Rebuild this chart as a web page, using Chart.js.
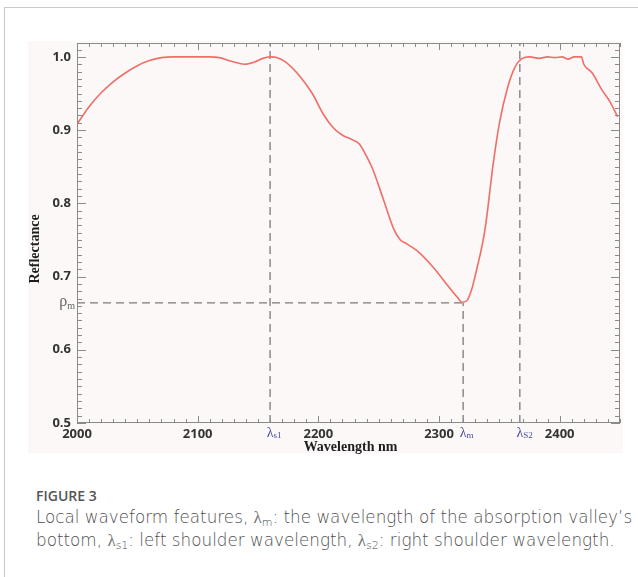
<!DOCTYPE html>
<html>
<head>
<meta charset="utf-8">
<script src="https://cdn.jsdelivr.net/npm/chart.js@4.4.1/dist/chart.umd.min.js"></script>
<style>
    html, body { margin: 0; padding: 0; background: #fff; }
    body { width: 638px; height: 577px; position: relative; overflow: hidden; font-family: "Open Sans", sans-serif; }
    .frame-left { position: absolute; left: 4px; top: 7px; width: 1px; height: 570px; background: #c9c9c9; }
    .frame-top { position: absolute; left: 4px; top: 7px; width: 634px; height: 1px; background: #c9c9c9; }
    #plotBg { position: absolute; left: 28px; top: 41px; width: 595px; height: 412px; background: #fcf8f7; }
    #plotBox { position: absolute; left: 28px; top: 41px; width: 595px; height: 418px; }
    .caption { position: absolute; left: 36px; top: 486px; width: 602px; color: #505050; }
    .caption .label { font-size: 14px; line-height: 20px; color: #555; font-weight: 600; }
    .caption .text { font-family: "DejaVu Sans", sans-serif; font-size: 16.8px; line-height: 22px; font-weight: 200; white-space: nowrap; }
    .caption .lam { font-family: "Liberation Serif", serif; font-size: 17px; color: #777; }
    .caption sub { font-size: 11px; vertical-align: -3px; line-height: 0; }
</style>
</head>
<body>
<div class="frame-left"></div>
<div class="frame-top"></div>
<div id="plotBg"></div>
<div id="plotBox"><canvas id="spectrumChart"></canvas></div>
<div class="caption">
    <div class="label">FIGURE 3</div>
    <div class="text">Local waveform features, <span class="lam">λ</span><sub>m</sub>: the wavelength of the absorption valley’s<br>bottom, <span class="lam">λ</span><sub>s1</sub>: left shoulder wavelength, <span class="lam">λ</span><sub>s2</sub>: right shoulder wavelength.</div>
</div>
<script>
// Spectrum (nm, reflectance)
const wavelength = [
    2000, 2010, 2020, 2030, 2040, 2050, 2060, 2070, 2080, 2090,
    2100, 2110, 2118, 2128, 2139, 2147, 2154, 2160, 2166, 2173,
    2185, 2195, 2204, 2212, 2220, 2228, 2234, 2240, 2245, 2254,
    2263, 2268, 2273, 2282, 2295, 2309, 2315, 2319, 2323, 2327,
    2331, 2338, 2345, 2350, 2357, 2363, 2369, 2375, 2383, 2390,
    2396, 2402, 2407, 2412, 2418, 2420, 2427, 2435, 2442, 2448
];
const reflectance = [
    0.908, 0.932, 0.951, 0.966, 0.978, 0.988, 0.995, 0.999, 1.000, 1.000,
    1.000, 1.000, 0.999, 0.994, 0.990, 0.993, 0.998, 1.000, 0.999, 0.993,
    0.973, 0.950, 0.922, 0.904, 0.893, 0.887, 0.881, 0.864, 0.847, 0.805,
    0.763, 0.750, 0.745, 0.735, 0.713, 0.684, 0.672, 0.665, 0.667, 0.682,
    0.708, 0.763, 0.855, 0.909, 0.959, 0.986, 0.998, 1.000, 0.998, 1.000,
    0.999, 1.000, 0.997, 1.000, 1.000, 0.990, 0.978, 0.955, 0.938, 0.918
];

// Feature markers
const lambdaS1 = 2160;
const lambdaM = 2320;
const lambdaS2 = 2367;
const rhoM = 0.664;

const xTickValues = [2000, 2100, 2200, 2300, 2400];
const yTickValues = [0.5, 0.6, 0.7, 0.8, 0.9, 1.0];
const xMin = 2000, xMax = 2450;
const yMin = 0.5, yMax = 1.019;

const axisColor = '#8a8a8a';
const dashColor = '#7a7a7a';
const lambdaColor = '#4646a0';

function dashed(points) {
    return {
        data: points,
        borderColor: dashColor,
        borderWidth: 1.3,
        borderDash: [8, 5],
        pointRadius: 0,
        tension: 0
    };
}

// Inward ticks on all four sides, feature labels and axis titles
const framePlugin = {
    id: 'frame',
    afterDraw(chart) {
        const ctx = chart.ctx;
        const area = chart.chartArea;
        const xs = chart.scales.x;
        const ys = chart.scales.y;

        ctx.save();
        ctx.strokeStyle = axisColor;
        ctx.lineWidth = 1;
        ctx.strokeRect(area.left + 0.5, area.top + 0.5, area.right - area.left - 1, area.bottom - area.top - 1);

        ctx.beginPath();
        for (let v = xMin; v <= xMax; v += 10) {
            const px = Math.round(xs.getPixelForValue(v)) + 0.5;
            const len = v % 100 === 0 ? 7 : 4;
            ctx.moveTo(px, area.bottom);
            ctx.lineTo(px, area.bottom - len);
            ctx.moveTo(px, area.top);
            ctx.lineTo(px, area.top + len);
        }
        for (let i = 50; i <= 101; i++) {
            const v = i / 100;
            const py = Math.round(ys.getPixelForValue(v)) + 0.5;
            const len = i % 10 === 0 ? 9 : 5;
            ctx.moveTo(area.left, py);
            ctx.lineTo(area.left + len, py);
            ctx.moveTo(area.right, py);
            ctx.lineTo(area.right - len, py);
        }
        ctx.stroke();

        // lambda labels under the x axis
        const lambdaLabels = [[lambdaS1, 's1'], [lambdaM, 'm'], [lambdaS2, 'S2']];
        ctx.fillStyle = lambdaColor;
        ctx.textBaseline = 'middle';
        lambdaLabels.forEach(([v, sub]) => {
            const px = xs.getPixelForValue(v);
            const py = area.bottom + 10;
            ctx.font = '14px "Liberation Serif", serif';
            const w = ctx.measureText('λ').width;
            ctx.textAlign = 'center';
            ctx.fillText('λ', px, py);
            ctx.font = '9px "Liberation Serif", serif';
            ctx.textAlign = 'left';
            ctx.fillText(sub, px + w / 2, py + 3);
        });

        // rho_m label on the y axis
        ctx.fillStyle = '#666';
        const rpy = ys.getPixelForValue(rhoM);
        ctx.font = '10px "Liberation Serif", serif';
        ctx.textAlign = 'right';
        ctx.fillText('m', area.left - 2, rpy + 3);
        const mw = ctx.measureText('m').width;
        ctx.font = '16px "Liberation Serif", serif';
        ctx.fillText('ρ', area.left - 2 - mw, rpy - 1);

        // axis titles
        ctx.fillStyle = '#1e1e1e';
        ctx.font = 'bold 14px "Liberation Serif", serif';
        ctx.textAlign = 'center';
        ctx.fillText('Wavelength nm', (area.left + area.right) / 2 + 2, area.bottom + 24);
        ctx.translate(area.left - 42, (area.top + area.bottom) / 2 + 16);
        ctx.rotate(-Math.PI / 2);
        ctx.fillText('Reflectance', 0, 0);
        ctx.restore();
    }
};

const tickFont = { family: '"Open Sans", sans-serif', size: 13, weight: 'bold' };

new Chart(document.getElementById('spectrumChart'), {
    type: 'line',
    data: {
        datasets: [
            {
                data: wavelength.map((w, i) => ({ x: w, y: reflectance[i] })),
                borderColor: '#ef6e68',
                borderWidth: 1.6,
                pointRadius: 0,
                cubicInterpolationMode: 'monotone'
            },
            dashed([{ x: lambdaS1, y: yMin }, { x: lambdaS1, y: yMax }]),
            dashed([{ x: lambdaS2, y: yMin }, { x: lambdaS2, y: yMax }]),
            dashed([{ x: lambdaM, y: yMin }, { x: lambdaM, y: rhoM }]),
            dashed([{ x: xMin, y: rhoM }, { x: lambdaM, y: rhoM }])
        ]
    },
    options: {
        responsive: true,
        maintainAspectRatio: false,
        animation: false,
        layout: { padding: { top: 2, right: 3, left: 0, bottom: 6 } },
        plugins: {
            legend: { display: false },
            tooltip: { enabled: false }
        },
        scales: {
            x: {
                type: 'linear',
                min: xMin,
                max: xMax,
                grid: { display: false, drawTicks: false },
                border: { display: false },
                afterBuildTicks: s => { s.ticks = xTickValues.map(v => ({ value: v })); },
                afterFit: s => { s.height = 30; s.paddingLeft = 0; s.paddingRight = 0; },
                ticks: {
                    color: '#333',
                    font: tickFont,
                    padding: 3,
                    maxRotation: 0,
                    callback: v => String(v)
                }
            },
            y: {
                type: 'linear',
                min: yMin,
                max: yMax,
                grid: { display: false, drawTicks: false },
                border: { display: false },
                afterBuildTicks: s => { s.ticks = yTickValues.map(v => ({ value: v })); },
                afterFit: s => { s.width = 49; s.paddingTop = 0; s.paddingBottom = 0; },
                ticks: {
                    color: '#333',
                    font: tickFont,
                    padding: 6,
                    callback: v => v.toFixed(1)
                }
            }
        }
    },
    plugins: [framePlugin]
});
</script>
</body>
</html>
